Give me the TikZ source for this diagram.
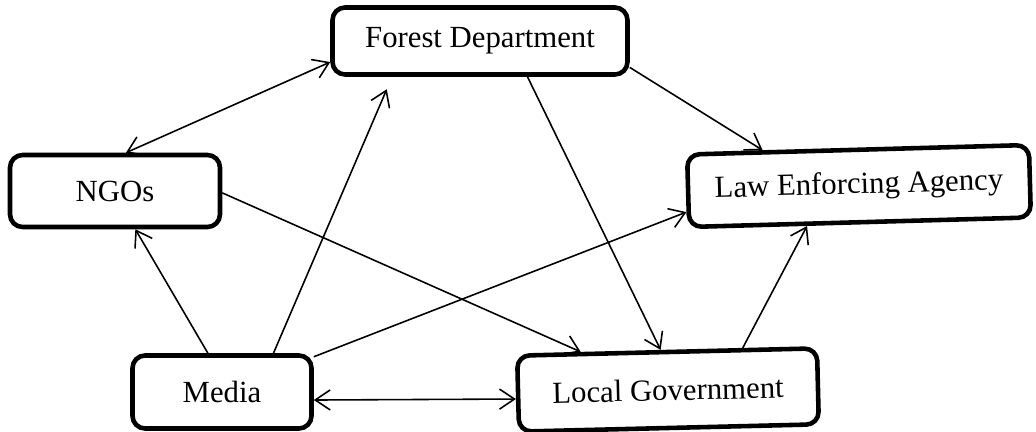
\documentclass[tikz,border=0pt]{standalone}
\usepackage{fontspec}
\setmainfont{Liberation Serif}
\usetikzlibrary{arrows.meta}

\begin{document}
\begin{tikzpicture}[x=0.02cm, y=-0.02cm,
  box/.style = {draw, rounded corners=2.5mm, line width=2.6pt, inner sep=0pt, font=\fontsize{17.5}{20}\selectfont},
  link/.style = {line width=0.9pt},
  >={Straight Barb[length=3mm,width=4mm]}]
\useasboundingbox (0,0) rectangle (1036,432);
\node[box, minimum width=5.9cm, minimum height=1.34cm] (fd) at (480,41) {Forest Department};
\node[box, minimum width=4.2cm, minimum height=1.44cm] (ngo) at (115,191) {NGOs};
\node[box, minimum width=6.84cm, minimum height=1.45cm, rotate=1.6] (lea) at (859,186) {Law Enforcing Agency};
\node[box, minimum width=3.58cm, minimum height=1.46cm] (media) at (222,392) {Media};
\node[box, minimum width=6.0cm, minimum height=1.52cm, rotate=1.4] (lg) at (668,390) {Local Government};
\draw[link, <->] (ngo.74) -- (fd.188);
\draw[link, ->] (media.37) -- ([yshift=-0.25cm]fd.201);
\draw[link, ->] (fd.-10) -- (lea.158);
\draw[link, ->] (fd.-37) -- (lg.99);
\draw[link, ->] (ngo.-1) -- (lg.155);
\draw[link, ->] (media.110) -- (ngo.-62);
\draw[link, ->] (media.21) -- (lea.187);
\draw[link, <->] (media.-5) -- (lg.182);
\draw[link, ->] (lg.28) -- (lea.216);
\end{tikzpicture}
\end{document}
